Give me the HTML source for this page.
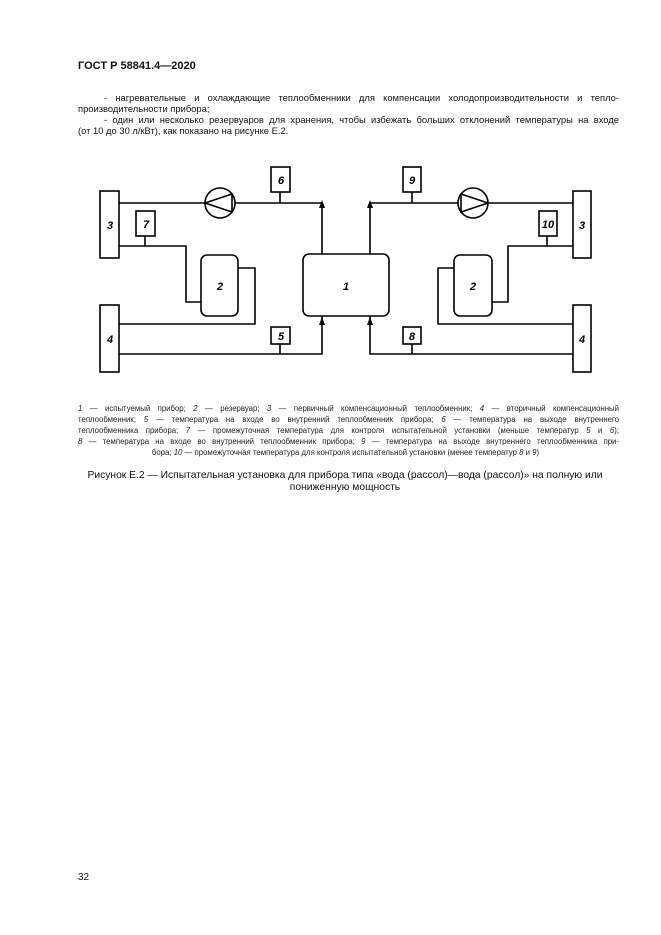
<!DOCTYPE html>
<html><head><meta charset="utf-8"><style>
body{margin:0;background:#fff;width:661px;height:935px;position:relative;font-family:"Liberation Sans",sans-serif;color:#111;overflow:hidden}
.a{position:absolute;white-space:nowrap}
.j{position:absolute;left:78px;width:541px;text-align:justify;text-align-last:justify;font-size:9.4px;line-height:11px;white-space:nowrap}
.c{position:absolute;left:78px;width:541px;font-size:7.8px;line-height:11px;text-align:justify;text-align-last:justify;color:#222;white-space:nowrap}
i{font-style:italic}
</style></head><body>
<div class="a" style="left:78px;top:60px;font-size:11px;font-weight:bold">ГОСТ Р 58841.4—2020</div>
<div class="j" style="top:92px"><span style="padding-left:26px"></span>- нагревательные и охлаждающие теплообменники для компенсации холодопроизводительности и тепло-</div>
<div class="a" style="left:78px;top:103px;font-size:9.4px">производительности прибора;</div>
<div class="j" style="top:114px"><span style="padding-left:26px"></span>- один или несколько резервуаров для хранения, чтобы избежать больших отклонений температуры на входе</div>
<div class="a" style="left:78px;top:125px;font-size:9.4px">(от 10 до 30 л/кВт), как показано на рисунке Е.2.</div>

<svg class="a" style="left:0;top:0" width="661" height="400" viewBox="0 0 661 400">
<g fill="none" stroke="#000" stroke-width="1.6">
<rect x="100" y="191" width="19" height="67"/>
<rect x="100" y="305" width="19" height="67"/>
<rect x="573" y="191" width="18" height="67"/>
<rect x="573" y="305" width="18" height="67"/>
<rect x="303" y="254" width="86" height="62" rx="6"/>
<rect x="201" y="255" width="37" height="61" rx="6"/>
<rect x="454" y="255" width="38" height="61" rx="6"/>
<rect x="271" y="167" width="19" height="25"/>
<rect x="136" y="211" width="19" height="25"/>
<rect x="271" y="327" width="19" height="17"/>
<rect x="403" y="167" width="18" height="25"/>
<rect x="539" y="211" width="18" height="25"/>
<rect x="403" y="327" width="18" height="17"/>
<circle cx="220" cy="203" r="15"/>
<circle cx="473" cy="203" r="15"/>
<path d="M205 203 L232 194 L232 212 Z"/>
<path d="M488 203 L461 194 L461 212 Z"/>
<path d="M119 203 H205 M235 203 H322 V254 M280 192 V203"/>
<path d="M119 246 H186 V302 H201 M145 236 V246"/>
<path d="M238 268 H255 V324 H119"/>
<path d="M119 354 H322 V316 M280 344 V354"/>
<path d="M370 254 V203 H458 M488 203 H573 M412 192 V203"/>
<path d="M573 246 H508 V302 H492 M547 236 V246"/>
<path d="M454 268 H438 V324 H573"/>
<path d="M573 354 H370 V316 M412 344 V354"/>
</g>
<g fill="#000">
<path d="M322 200 l-3 8 h6z M370 200 l-3 8 h6z M322 317 l-3 8 h6z M370 317 l-3 8 h6z"/>
</g>
<g font-family="Liberation Sans, sans-serif" font-size="11" font-weight="bold" font-style="italic" text-anchor="middle">
<text x="110" y="229">3</text><text x="110" y="343">4</text>
<text x="582" y="229">3</text><text x="582" y="343">4</text>
<text x="346" y="290">1</text><text x="220" y="290">2</text><text x="473" y="290">2</text>
<text x="281" y="184">6</text><text x="146" y="228">7</text><text x="281" y="340">5</text>
<text x="412" y="184">9</text><text x="548" y="228">10</text><text x="412" y="340">8</text>
</g>
</svg>

<div class="c" style="top:403px"><i>1</i> — испытуемый прибор; <i>2</i> — резервуар; <i>3</i> — первичный компенсационный теплообменник; <i>4</i> — вторичный компенсационный</div>
<div class="c" style="top:414px">теплообменник; <i>5</i> — температура на входе во внутренний теплообменник прибора; <i>6</i> — температура на выходе внутреннего</div>
<div class="c" style="top:425px">теплообменника прибора; <i>7</i> — промежуточная температура для контроля испытательной установки (меньше температур <i>5</i> и <i>6</i>);</div>
<div class="c" style="top:436px"><i>8</i> — температура на входе во внутренний теплообменник прибора; <i>9</i> — температура на выходе внутреннего теплообменника при-</div>
<div class="a" style="left:0;width:691px;text-align:center;top:447px;font-size:7.8px;line-height:11px;color:#222">бора; <i>10</i> — промежуточная температура для контроля испытательной установки (менее температур <i>8</i> и <i>9</i>)</div>

<div class="a" style="left:0;width:690px;text-align:center;top:470px;font-size:10.3px">Рисунок Е.2 — Испытательная установка для прибора типа «вода (рассол)—вода (рассол)» на полную или</div>
<div class="a" style="left:0;width:690px;text-align:center;top:482px;font-size:10.3px">пониженную мощность</div>

<div class="a" style="left:78px;top:872px;font-size:10px">32</div>
</body></html>
